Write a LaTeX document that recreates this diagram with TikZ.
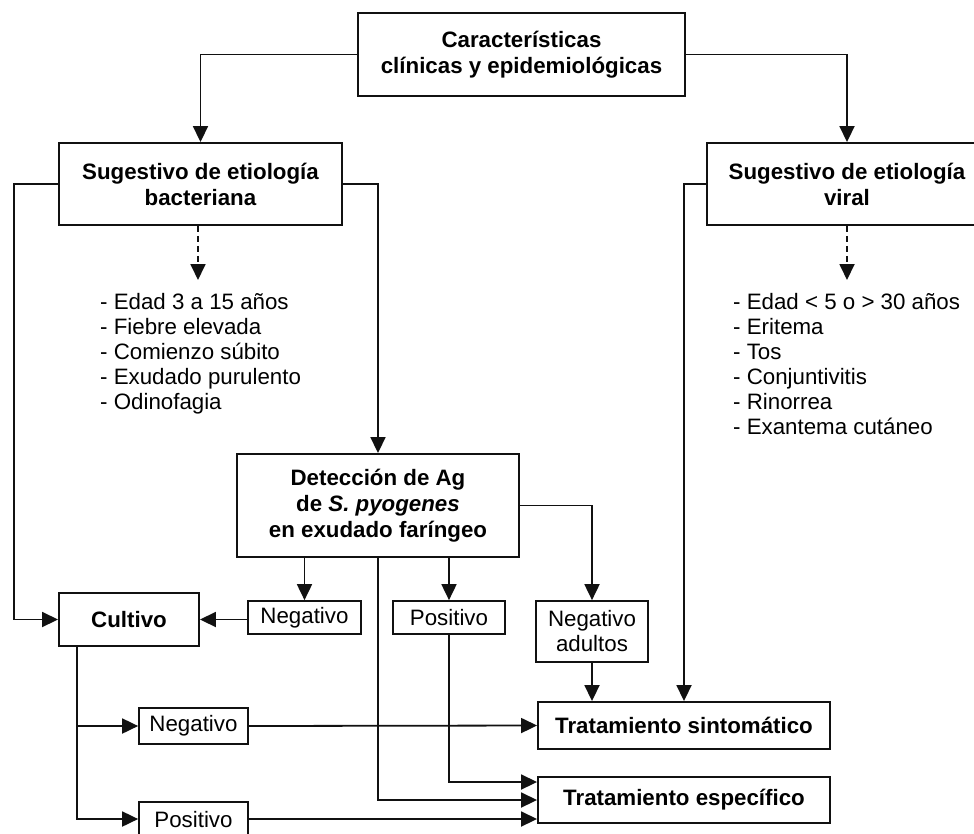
\documentclass[tikz,border=0pt]{standalone}
\usepackage{fontspec}
\setmainfont{Liberation Sans}
\usepackage{xcolor}
\usetikzlibrary{calc,arrows.meta}
\definecolor{ink}{HTML}{111111}
\tikzset{
  box/.style={draw=ink, line width=1.9pt, align=center, inner sep=0pt, font=\fontsize{22.3}{26}\selectfont\bfseries},
  sbox/.style={draw=ink, line width=1.7pt, align=center, inner sep=0pt, font=\fontsize{22.3}{25}\selectfont},
  arr/.style={draw=ink, line width=1.8pt, -{Triangle[length=16pt,width=15pt]}},
  darr/.style={arr, dash pattern=on 6pt off 4pt},
  lst/.style={align=left, inner sep=0pt, font=\fontsize{22.3}{25}\selectfont},
}

\begin{document}
\begin{tikzpicture}[x=1pt,y=-1pt]
  \clip (0,0) rectangle (974,833);
  \fill[white] (0,0) rectangle (974,833);

  % main boxes
  \node[box, minimum width=327pt, minimum height=83pt] (carac) at (521.5,54.5) {Características\\clínicas y epidemiológicas};
  \node[box, minimum width=283pt, minimum height=82pt] (bact) at (200.5,184) {Sugestivo de etiología\\bacteriana};
  \node[box, minimum width=280pt, minimum height=82pt] (viral) at (847,184) {Sugestivo de etiología\\viral};
  \node[box, minimum width=282pt, minimum height=103pt] (detec) at (378,505.5) {Detección de Ag\\de \textit{S. pyogenes}\\en exudado faríngeo};
  \node[box, minimum width=140pt, minimum height=53pt] (cultivo) at (129,619.5) {Cultivo};
  \node[box, minimum width=292pt, minimum height=47pt] (sint) at (684,725.5) {Tratamiento sintomático};
  \node[box, minimum width=292pt, minimum height=46pt] (espec) at (684,800) {Tratamiento específico};

  % result boxes
  \node[sbox, minimum width=113pt, minimum height=33pt] (neg1) at (304.5,617.5) {Negativo};
  \node[sbox, minimum width=112pt, minimum height=33pt] (pos1) at (449,617.5) {Positivo};
  \node[sbox, minimum width=112pt, minimum height=61pt] (negad) at (592,631.5) {Negativo\\adultos};
  \node[sbox, minimum width=109pt, minimum height=36pt] (neg2) at (193.5,726) {Negativo};
  \node[sbox, minimum width=109pt, minimum height=36pt] (pos2) at (193.5,820) {Positivo};

  % lists
  \node[lst, anchor=north west] (bactlist) at (100,293) {- Edad 3 a 15 años\\- Fiebre elevada\\- Comienzo súbito\\- Exudado purulento\\- Odinofagia};
  \node[lst, anchor=north west] (virallist) at (733,293) {- Edad < 5 o > 30 años\\- Eritema\\- Tos\\- Conjuntivitis\\- Rinorrea\\- Exantema cutáneo};

  \coordinate (bactend) at (198,280);
  \coordinate (viralend) at (847,280);
  \coordinate (cultdown) at (77,646);

  % connectors
  \draw[arr] (carac.west) -| (bact.north);
  \draw[arr] (carac.east) -| (viral.north);
  \draw[darr] (bact.south -| bactend) -- (bactend);
  \draw[darr] (viral.south) -- (viralend);
  \draw[arr] (bact.west) -- ++(-44,0) |- (cultivo.west);
  \draw[arr] (bact.east) -| (detec.north);
  \draw[arr] (viral.west) -| (sint.north);
  \draw[arr] (detec.east) -| (negad.north);
  \draw[arr] (neg1.north |- detec.south) -- (neg1.north);
  \draw[arr] (pos1.north |- detec.south) -- (pos1.north);
  \draw[arr] (detec.south) |- (espec.west);
  \draw[arr] (pos1.south) |- ($(espec.west)+(0,-18)$);
  \draw[arr] (pos2.east |- 0,819) -- ($(espec.west)+(0,19)$);
  \draw[arr] (neg1.west |- cultivo.east) -- (cultivo.east);
  \draw[arr] (cultdown) |- (pos2.west |- 0,819);
  \draw[arr] (cultdown |- neg2.west) -- (neg2.west);
  \draw[arr] (neg2.east) -- (sint.west);
  \draw[arr] (negad.south) -- (negad.south |- sint.north);
\end{tikzpicture}
\end{document}
